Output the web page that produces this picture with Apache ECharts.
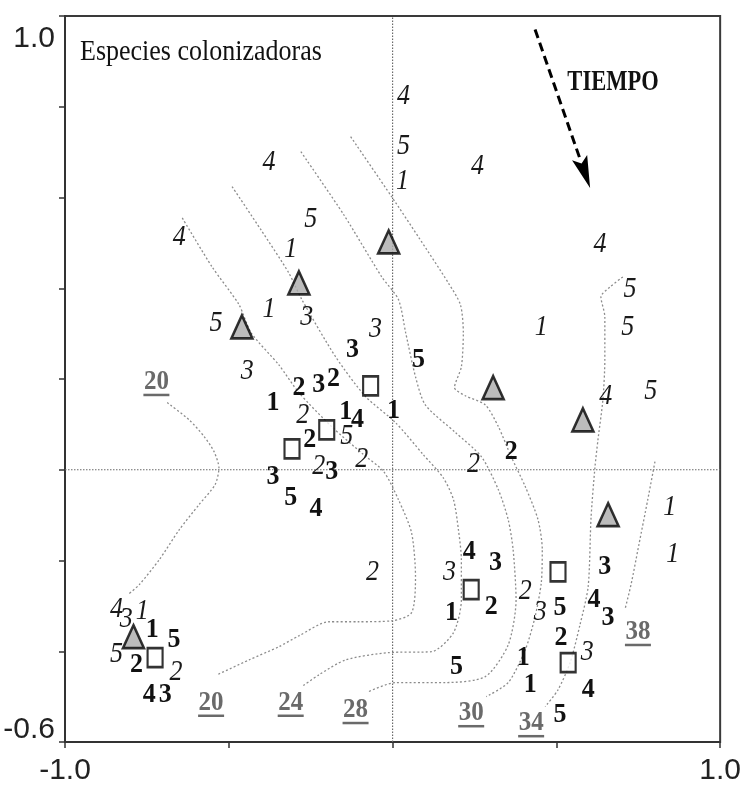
<!DOCTYPE html>
<html>
<head>
<meta charset="utf-8">
<script src="https://cdn.jsdelivr.net/npm/echarts@6/dist/echarts.min.js"></script>
<style>
  html, body { margin: 0; padding: 0; background: #fff; }
  #chart { width: 744px; height: 793px; }
</style>
</head>
<body>
<div id="chart"></div>
<script>
// Ordination sites: grey triangles and open squares
const triangleSites = [[-0.012, 0.502], [-0.286, 0.412], [-0.460, 0.315], [0.307, 0.181],
  [0.581, 0.110], [0.658, -0.099], [-0.791, -0.368]];
const squareSites = [[-0.067, 0.185], [-0.201, 0.088], [-0.307, 0.046], [0.240, -0.264],
  [0.505, -0.225], [0.536, -0.425], [-0.725, -0.414]];

// Species scores, upright bold digits: [label, x, y]
const boldDigits = [
  ['3', -0.122, 0.264], ['5', 0.079, 0.242], ['2', -0.286, 0.181], ['3', -0.225, 0.187],
  ['2', -0.180, 0.201], ['1', -0.365, 0.148], ['1', -0.143, 0.128], ['4', -0.107, 0.110],
  ['1', 0.003, 0.130], ['2', -0.253, 0.066], ['3', -0.186, -0.004], ['3', -0.365, -0.015],
  ['5', -0.311, -0.062], ['4', -0.234, -0.086], ['2', 0.362, 0.040], ['4', 0.234, -0.181],
  ['3', 0.314, -0.205], ['1', 0.180, -0.315], ['2', 0.301, -0.302], ['5', 0.195, -0.434],
  ['1', 0.399, -0.414], ['1', 0.420, -0.474], ['5', 0.511, -0.540], ['3', 0.648, -0.214],
  ['4', 0.615, -0.287], ['3', 0.658, -0.326], ['5', 0.511, -0.304], ['2', 0.514, -0.370],
  ['4', 0.597, -0.485], ['1', -0.734, -0.353], ['5', -0.667, -0.375], ['2', -0.782, -0.430],
  ['4', -0.743, -0.496], ['3', -0.694, -0.496]
];

// Species scores, italic digits: [label, x, y]
const italicDigits = [
  ['4', 0.033, 0.822], ['5', 0.033, 0.712], ['1', 0.030, 0.635], ['4', 0.259, 0.668],
  ['4', 0.633, 0.496], ['4', -0.377, 0.677], ['5', -0.250, 0.551], ['4', -0.651, 0.511],
  ['1', -0.311, 0.485], ['1', -0.377, 0.353], ['3', -0.262, 0.335], ['5', -0.539, 0.322],
  ['3', -0.052, 0.309], ['3', -0.444, 0.216], ['2', -0.274, 0.119], ['5', -0.140, 0.073],
  ['2', -0.094, 0.022], ['2', -0.225, 0.007], ['1', 0.454, 0.313], ['5', 0.725, 0.397],
  ['5', 0.718, 0.313], ['4', 0.651, 0.161], ['5', 0.788, 0.172], ['2', 0.247, 0.011],
  ['1', 0.846, -0.084], ['1', 0.855, -0.187], ['2', -0.061, -0.227], ['3', 0.174, -0.227],
  ['2', 0.405, -0.269], ['3', 0.451, -0.315], ['3', 0.594, -0.403], ['4', -0.843, -0.309],
  ['3', -0.813, -0.331], ['1', -0.764, -0.313], ['5', -0.843, -0.408], ['2', -0.661, -0.447]
];

// Isoline values and where they are written
const isolineLabels = [
  ['20', -0.721, 0.194], ['20', -0.554, -0.513], ['24', -0.311, -0.513], ['28', -0.113, -0.529],
  ['30', 0.240, -0.536], ['34', 0.423, -0.558], ['38', 0.749, -0.357]
];

// Isolines of time
const isoTop20 = [[-0.688, 0.148], [-0.621, 0.110], [-0.575, 0.073], [-0.545, 0.040], [-0.530, 0.004],
  [-0.542, -0.033], [-0.591, -0.077], [-0.651, -0.132], [-0.712, -0.198], [-0.773, -0.253], [-0.804, -0.273]];
const iso20 = [[-0.642, 0.555], [-0.551, 0.447], [-0.469, 0.364], [-0.432, 0.302], [-0.347, 0.231],
  [-0.286, 0.170], [-0.186, 0.095], [-0.088, 0.033], [-0.027, -0.004], [0.018, -0.066], [0.058, -0.139],
  [0.070, -0.236], [0.058, -0.315], [-0.003, -0.333], [-0.104, -0.335], [-0.195, -0.335],
  [-0.286, -0.366], [-0.347, -0.390], [-0.438, -0.419], [-0.536, -0.452]];
const iso24 = [[-0.490, 0.624], [-0.402, 0.529], [-0.317, 0.434], [-0.277, 0.375], [-0.174, 0.249],
  [-0.082, 0.161], [0.009, 0.104], [0.094, 0.033], [0.155, -0.018], [0.186, -0.066], [0.201, -0.132],
  [0.210, -0.198], [0.210, -0.287], [0.186, -0.359], [0.119, -0.401], [-0.012, -0.403],
  [-0.143, -0.419], [-0.225, -0.452], [-0.277, -0.478]];
const iso28 = [[-0.280, 0.701], [-0.149, 0.562], [-0.033, 0.425], [0.018, 0.375], [0.040, 0.302],
  [0.070, 0.205], [0.100, 0.143], [0.192, 0.082], [0.271, 0.029], [0.323, -0.044], [0.353, -0.110],
  [0.368, -0.176], [0.377, -0.287], [0.353, -0.386], [0.283, -0.456], [0.161, -0.469],
  [0.009, -0.469], [-0.073, -0.489]];
const iso30 = [[-0.128, 0.734], [-0.003, 0.602], [0.079, 0.513], [0.170, 0.412], [0.207, 0.364],
  [0.216, 0.302], [0.210, 0.227], [0.189, 0.181], [0.222, 0.163], [0.283, 0.143], [0.323, 0.095],
  [0.362, 0.029], [0.405, -0.037], [0.444, -0.110], [0.457, -0.176], [0.454, -0.249],
  [0.435, -0.324], [0.405, -0.397], [0.353, -0.469], [0.286, -0.500]];
const iso34 = [[0.703, 0.425], [0.664, 0.403], [0.636, 0.381], [0.648, 0.337], [0.648, 0.242],
  [0.642, 0.154], [0.627, 0.066], [0.618, 0.007], [0.606, -0.104], [0.597, -0.258], [0.572, -0.342],
  [0.542, -0.425], [0.505, -0.485], [0.466, -0.522]];
const iso38 = [[0.801, 0.018], [0.779, -0.066], [0.752, -0.165], [0.728, -0.253], [0.709, -0.309]];

// Direction of time
const timeArrow = [[0.435, 0.970], [0.603, 0.621]];

// Axis extent and the tick labels that are written
const xRange = [-1.0, 1.0];
const yRange = [-0.6, 1.0];
const xTickLabels = ['-1.0', '1.0'];
const yTickLabels = ['-0.6', '1.0'];

const SERIF = '"Liberation Serif", "Times New Roman", serif';
const SANS = '"Liberation Sans", Arial, sans-serif';

const chart = echarts.init(document.getElementById('chart'), null, { renderer: 'canvas' });

function isoSeries(data) {
  return {
    type: 'line', data: data, showSymbol: false, smooth: 0.25, silent: true, z: 2,
    lineStyle: { color: '#8c8c8c', width: 1.3, type: [2, 2.2] }
  };
}

function digitSeries(list, font, scaleY, color) {
  return {
    type: 'custom', silent: true, z: 6, clip: false,
    data: list.map(d => [d[1], d[2]]),
    renderItem: function (params, api) {
      const p = api.coord([api.value(0), api.value(1)]);
      return {
        type: 'text', x: p[0], y: p[1], scaleY: scaleY,
        style: { text: list[params.dataIndex][0], font: font, fill: color, align: 'center', verticalAlign: 'middle' }
      };
    }
  };
}

const option = {
  animation: false,
  backgroundColor: '#fff',
  grid: { left: 65, right: 22, top: 16, bottom: 51, show: true, borderColor: '#3a3a3a', borderWidth: 2 },
  xAxis: {
    type: 'value', min: xRange[0], max: xRange[1], interval: 0.5,
    axisLine: { show: true, onZero: false, lineStyle: { color: '#333', width: 2 } },
    axisTick: { show: true, length: 6, lineStyle: { color: '#333', width: 1.5 } },
    splitLine: { show: false },
    axisLabel: {
      formatter: (v) => { const s = v.toFixed(1); return xTickLabels.indexOf(s) >= 0 ? s : ''; },
      showMinLabel: true, showMaxLabel: true,
      fontFamily: SANS, fontSize: 30, color: '#222', margin: 14
    }
  },
  yAxis: {
    type: 'value', min: yRange[0], max: yRange[1], interval: 0.2,
    axisLine: { show: true, onZero: false, lineStyle: { color: '#333', width: 2 } },
    axisTick: { show: true, length: 6, lineStyle: { color: '#333', width: 1.5 } },
    splitLine: { show: false },
    axisLabel: {
      formatter: (v) => {
        const s = v.toFixed(1);
        if (s === yTickLabels[1]) return '{hi|' + s + '}';
        if (s === yTickLabels[0]) return '{lo|' + s + '}';
        return '';
      },
      showMinLabel: true, showMaxLabel: true,
      verticalAlignMaxLabel: 'top', verticalAlignMinLabel: 'bottom',
      fontFamily: SANS, fontSize: 30, color: '#222', margin: 10,
      rich: {
        hi: { fontFamily: SANS, fontSize: 30, color: '#222', lineHeight: 46 },
        lo: { fontFamily: SANS, fontSize: 30, color: '#222', lineHeight: 24 }
      }
    }
  },
  graphic: [
    { type: 'text', x: 80, y: 52, scaleY: 1.15, silent: true,
      style: { text: 'Especies colonizadoras', font: '26px ' + SERIF, fill: '#111', align: 'left', verticalAlign: 'middle' } },
    { type: 'text', x: 613, y: 82, scaleY: 1.3, silent: true,
      style: { text: 'TIEMPO', font: 'bold 22.5px ' + SERIF, fill: '#111', align: 'center', verticalAlign: 'middle' } }
  ],
  series: [
    // zero axes
    { type: 'line', data: [[0, yRange[0]], [0, yRange[1]]], showSymbol: false, silent: true, z: 1,
      lineStyle: { color: '#6a6a6a', width: 1.2, type: [1.5, 1.5] } },
    { type: 'line', data: [[xRange[0], 0], [xRange[1], 0]], showSymbol: false, silent: true, z: 1,
      lineStyle: { color: '#6a6a6a', width: 1.2, type: [1.5, 1.5] } },
    isoSeries(isoTop20), isoSeries(iso20), isoSeries(iso24), isoSeries(iso28),
    isoSeries(iso30), isoSeries(iso34), isoSeries(iso38),
    // time arrow
    {
      type: 'custom', silent: true, z: 5, clip: false,
      data: [[timeArrow[0][0], timeArrow[0][1], timeArrow[1][0], timeArrow[1][1]]],
      renderItem: function (params, api) {
        const a = api.coord([api.value(0), api.value(1)]);
        const b = api.coord([api.value(2), api.value(3)]);
        const dx = b[0] - a[0], dy = b[1] - a[1];
        const len = Math.sqrt(dx * dx + dy * dy);
        const ux = dx / len, uy = dy / len;
        const headLen = 32, halfW = 8;
        const base = [b[0] - ux * headLen, b[1] - uy * headLen];
        return {
          type: 'group',
          children: [
            { type: 'line', shape: { x1: a[0], y1: a[1], x2: base[0] + ux * 2, y2: base[1] + uy * 2 },
              style: { stroke: '#000', lineWidth: 3, lineDash: [9, 5] } },
            { type: 'polygon', shape: { points: [
                [b[0], b[1]],
                [base[0] - uy * halfW, base[1] + ux * halfW],
                [base[0] + ux * 6, base[1] + uy * 6],
                [base[0] + uy * halfW, base[1] - ux * halfW]
              ] }, style: { fill: '#000' } }
          ]
        };
      }
    },
    // sites
    { type: 'scatter', data: triangleSites, symbol: 'triangle', symbolSize: [21, 23], silent: true, z: 4,
      itemStyle: { color: '#ababab', borderColor: '#000', borderWidth: 2.6 } },
    { type: 'scatter', data: squareSites, symbol: 'rect', symbolSize: [15, 19], silent: true, z: 4,
      itemStyle: { color: '#fff', borderColor: '#000', borderWidth: 2.4 } },
    digitSeries(boldDigits, 'bold 26px ' + SERIF, 1.05, '#111'),
    digitSeries(italicDigits, 'italic 26px ' + SERIF, 1.1, '#1a1a1a'),
    // underlined isoline values
    {
      type: 'custom', silent: true, z: 6, clip: false,
      data: isolineLabels.map(d => [d[1], d[2]]),
      renderItem: function (params, api) {
        const p = api.coord([api.value(0), api.value(1)]);
        return {
          type: 'group',
          children: [
            { type: 'text', x: p[0], y: p[1], scaleY: 1.1,
              style: { text: isolineLabels[params.dataIndex][0], font: 'bold 25px ' + SERIF, fill: '#6a6a6a',
                align: 'center', verticalAlign: 'middle' } },
            { type: 'rect', shape: { x: p[0] - 13, y: p[1] + 12, width: 26, height: 2.5 },
              style: { fill: '#6a6a6a' } }
          ]
        };
      }
    }
  ]
};

chart.setOption(option);
</script>
</body>
</html>
